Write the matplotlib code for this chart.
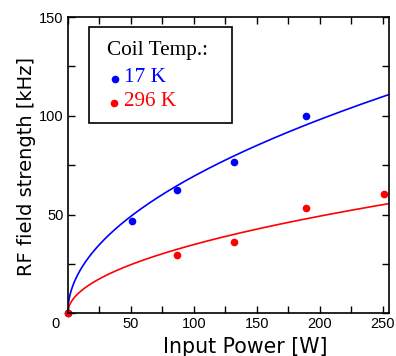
import numpy as np
import matplotlib
matplotlib.use("Agg")
import matplotlib.pyplot as plt
from matplotlib.ticker import MultipleLocator
from matplotlib.patches import Rectangle

# Data
power_17K = [0, 51, 87, 132, 189]
field_17K = [0, 46.5, 62.6, 76.8, 100.0]
power_296K = [0, 87, 132, 189, 250.5]
field_296K = [0, 29.3, 35.9, 53.5, 60.6]
# fit curves B = a * sqrt(P) (coefficients)
fit_coef_17K = 6.94
fit_coef_296K = 3.48
legend_title = "Coil Temp.:"
legend_labels = ["17 K", "296 K"]
xlabel = "Input Power [W]"
ylabel = "RF field strength [kHz]"

sans = ["Liberation Sans", "DejaVu Sans"]
label_font = ["DejaVu Sans"]
serif = ["Liberation Serif", "DejaVu Serif"]

fig = plt.figure(figsize=(3.96, 3.56), dpi=100)
ax = fig.add_axes([0.171, 0.120, 0.812, 0.832])

xmin, xmax = 0, 255
P = np.linspace(0, xmax, 400)
ax.plot(P, fit_coef_17K * np.sqrt(P), color="#0000ff", lw=1.2)
ax.plot(P, fit_coef_296K * np.sqrt(P), color="#ff0000", lw=1.2)
ax.plot(power_17K, field_17K, "o", color="#0000ff", ms=5.5, mec="none", clip_on=False)
ax.plot(power_296K, field_296K, "o", color="#ff0000", ms=5.5, mec="none", clip_on=False)

ax.set_xlim(xmin, xmax)
ax.set_ylim(0, 150)
ax.xaxis.set_minor_locator(MultipleLocator(25))
ax.yaxis.set_minor_locator(MultipleLocator(25))
ax.set_xticks([50, 100, 150, 200, 250])
ax.set_yticks([50, 100, 150])
ax.tick_params(which="both", direction="in", top=True, right=True, width=1.0)
ax.tick_params(which="major", length=5, labelsize=10.5, pad=3)
ax.tick_params(which="minor", length=5)
for s in ax.spines.values():
    s.set_linewidth(1.2)
for lbl in ax.get_xticklabels() + ax.get_yticklabels():
    lbl.set_family(sans)
ax.text(-0.025, -0.012, "0", transform=ax.transAxes, ha="right", va="top",
        fontsize=10.5, family=sans)

fig.text(245 / 396, 1 - 347 / 356, xlabel, fontsize=14.8, family=label_font,
         ha="center", va="center")
fig.text(27 / 396, 1 - 167 / 356, ylabel, fontsize=14, family=label_font,
         ha="center", va="center", rotation=90)

# legend box
fig.patches.append(Rectangle((89 / 396, 1 - 123 / 356), (232 - 89) / 396, (123 - 27) / 356,
                             transform=fig.transFigure, fill=False, ec="black", lw=1.2))
fig.text(107 / 396, 1 - 50 / 356, legend_title, fontsize=15.3, family=serif, va="center", ha="left")
fig.text(124 / 396, 1 - 77 / 356, legend_labels[0], fontsize=15.3, family=serif, va="center",
         ha="left", color="#0000ff")
fig.text(124 / 396, 1 - 101 / 356, legend_labels[1], fontsize=15.3, family=serif, va="center",
         ha="left", color="#ff0000")
fig.lines.append(plt.Line2D([114.5 / 396], [1 - 79 / 356], marker="o", color="#0000ff",
                            ms=5.5, mec="none", transform=fig.transFigure))
fig.lines.append(plt.Line2D([113.5 / 396], [1 - 103 / 356], marker="o", color="#ff0000",
                            ms=5.5, mec="none", transform=fig.transFigure))

fig.savefig("out.png", dpi=100)
